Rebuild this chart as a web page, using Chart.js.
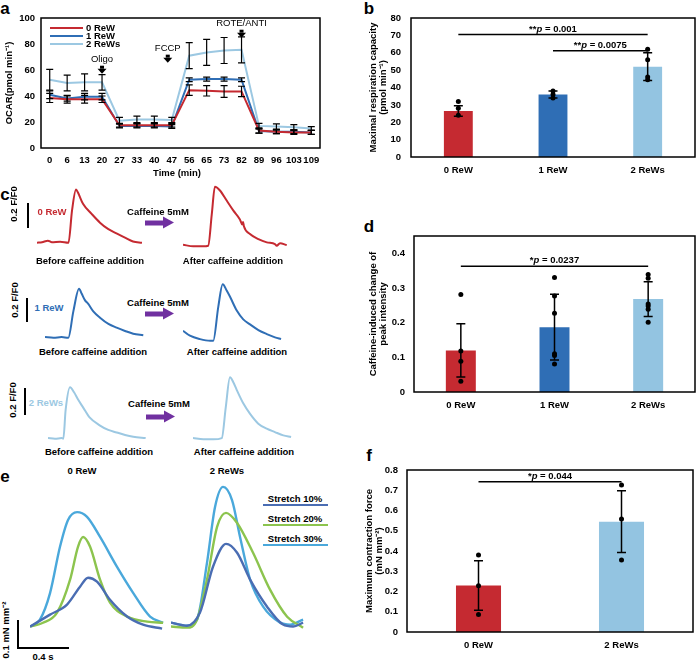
<!DOCTYPE html>
<html>
<head>
<meta charset="utf-8">
<script src="https://cdn.jsdelivr.net/npm/chart.js@4.4.1/dist/chart.umd.min.js"></script>
<style>
  body { margin: 0; background: #fff; }
  #fig { position: relative; width: 699px; height: 661px; overflow: hidden; background: #fff;
         font-family: 'Liberation Sans', Arial, sans-serif; }
  canvas { position: absolute; }
  .t { position: absolute; transform: translate(-50%, -50%); white-space: nowrap;
       font-weight: bold; font-size: 9.5px; line-height: 1; }
  .rot { transform: translate(-50%, -50%) rotate(-90deg); }
  .pl { position: absolute; transform: translate(-50%, -50%); font-weight: bold; font-size: 17px; line-height: 1; }
  .ln { position: absolute; background: #000; }
  .arrow { position: absolute; width: 29px; height: 13px; transform: translateY(-50%); }
  .arrow::before { content: ''; position: absolute; left: 0; top: 4px; width: 18px; height: 5px; background: #7030A0; }
  .arrow::after { content: ''; position: absolute; left: 18px; top: 0; border-left: 11px solid #7030A0;
                  border-top: 6.5px solid transparent; border-bottom: 6.5px solid transparent; }
</style>
</head>
<body>
<div id="fig">
  <!-- panel letters -->
  <div class="pl" style="left:5px;top:8px">a</div>
  <div class="pl" style="left:369px;top:8px">b</div>
  <div class="pl" style="left:5px;top:194px">c</div>
  <div class="pl" style="left:369px;top:226px">d</div>
  <div class="pl" style="left:5px;top:476px">e</div>
  <div class="pl" style="left:369px;top:455px">f</div>

  <canvas id="chartA" width="330" height="182" style="left:0;top:0"></canvas>
  <div class="t" style="left:177px;top:173px">Time (min)</div>
  <!-- legend a -->
  <div class="ln" style="left:50px;top:27px;width:33px;height:2px;background:#C52A31"></div>
  <div class="ln" style="left:50px;top:35px;width:33px;height:2px;background:#2F6EB5"></div>
  <div class="ln" style="left:50px;top:43px;width:33px;height:2px;background:#9CC8E2"></div>
  <div class="t" style="left:86px;top:28px;transform:translateY(-50%)">0 ReW</div>
  <div class="t" style="left:86px;top:36px;transform:translateY(-50%)">1 ReW</div>
  <div class="t" style="left:86px;top:44px;transform:translateY(-50%)">2 ReWs</div>

  <canvas id="chartB" width="349" height="185" style="left:350px;top:0"></canvas>
  <canvas id="chartD" width="349" height="220" style="left:350px;top:200px"></canvas>
  <canvas id="chartF" width="349" height="221" style="left:350px;top:440px"></canvas>

  <!-- panel c -->
  <div class="ln" style="left:27px;top:203px;width:2px;height:25px"></div>
  <div class="t rot" style="left:14px;top:204px">0.2 F/F0</div>
  <div class="t" style="left:52px;top:212px;color:#C52A31">0 ReW</div>
  <div class="t" style="left:158px;top:212px">Caffeine 5mM</div>
  <div class="arrow" style="left:145px;top:223px"></div>
  <div class="t" style="left:90px;top:261px">Before caffeine addition</div>
  <div class="t" style="left:233px;top:261px">After caffeine addition</div>
  <canvas id="c0b" width="105" height="69" style="left:37px;top:180px"></canvas>
  <canvas id="c0a" width="105" height="69" style="left:183px;top:183px"></canvas>

  <div class="ln" style="left:26px;top:298px;width:2px;height:24px"></div>
  <div class="t rot" style="left:15px;top:300px">0.2 F/F0</div>
  <div class="t" style="left:49px;top:308px;color:#2F6EB5">1 ReW</div>
  <div class="t" style="left:158px;top:303px">Caffeine 5mM</div>
  <div class="arrow" style="left:145px;top:314px"></div>
  <div class="t" style="left:93px;top:352px">Before caffeine addition</div>
  <div class="t" style="left:237px;top:352px">After caffeine addition</div>
  <canvas id="c1b" width="105" height="69" style="left:45px;top:275px"></canvas>
  <canvas id="c1a" width="105" height="69" style="left:183px;top:278px"></canvas>

  <div class="ln" style="left:24px;top:388px;width:2px;height:27px"></div>
  <div class="t rot" style="left:13px;top:400px">0.2 F/F0</div>
  <div class="t" style="left:46px;top:403px;color:#9CC8E2">2 ReWs</div>
  <div class="t" style="left:159px;top:404px">Caffeine 5mM</div>
  <div class="arrow" style="left:146px;top:417px"></div>
  <div class="t" style="left:99px;top:452px">Before caffeine addition</div>
  <div class="t" style="left:244px;top:452px">After caffeine addition</div>
  <canvas id="c2b" width="105" height="69" style="left:48px;top:376px"></canvas>
  <canvas id="c2a" width="105" height="69" style="left:193px;top:376px"></canvas>

  <!-- panel e -->
  <div class="t" style="left:82px;top:471px">0 ReW</div>
  <div class="t" style="left:227px;top:471px">2 ReWs</div>
  <div class="t" style="left:295px;top:499px">Stretch 10%</div>
  <div class="t" style="left:295px;top:519px">Stretch 20%</div>
  <div class="t" style="left:295px;top:539px">Stretch 30%</div>
  <div class="ln" style="left:263px;top:504px;width:65px;height:2px;background:#4A6DB3"></div>
  <div class="ln" style="left:263px;top:524px;width:65px;height:2px;background:#8CC44E"></div>
  <div class="ln" style="left:263px;top:544px;width:65px;height:2px;background:#4AA8DB"></div>
  <div class="ln" style="left:17px;top:620px;width:2px;height:29px"></div>
  <div class="ln" style="left:17px;top:647px;width:52px;height:2px"></div>
  <div class="t rot" style="left:6px;top:630px">0.1 mN mm⁻²</div>
  <div class="t" style="left:43px;top:657px">0.4 s</div>
  <canvas id="e0" width="134" height="148" style="left:30px;top:487px"></canvas>
  <canvas id="e2" width="134" height="148" style="left:171px;top:483px"></canvas>
</div>

<script>
// ---------- panel a: OCAR time course ----------
const timeLabels = ['0', '6', '13', '20', '27', '33', '40', '47', '56', '65', '73', '82', '89', '96', '103', '109'];
const ocar0 = [38.5, 37.5, 37.5, 37.5, 17.5, 17.5, 17.5, 17.5, 44.5, 44, 43.5, 43.5, 13.5, 12.5, 12, 12];
const ocar0Sd = [3.5, 3, 3, 2.5, 1.5, 1.5, 1.5, 1.5, 4, 4, 4.5, 4, 2, 1.5, 1.5, 1.5];
const ocar1 = [41, 38, 39.5, 39.5, 17, 17, 17, 16.5, 52.5, 53, 53, 52.5, 13, 12.5, 12.5, 12];
const ocar1Sd = [3, 2, 2.5, 2.5, 1.5, 1.5, 1.5, 1.5, 1.5, 1.5, 1.5, 1.5, 1.5, 1.5, 1.5, 1.5];
const ocar2 = [52.5, 50, 50.5, 50.5, 21, 22, 22, 21.5, 71, 73.5, 75, 75.5, 17, 16.5, 16, 15];
const ocar2Sd = [8, 6, 6.5, 6, 2.5, 2.5, 2.5, 2, 10, 10, 10, 10, 2, 2, 2, 1.5];

// ---------- panel b: maximal respiration ----------
const groups3 = ['0 ReW', '1 ReW', '2 ReWs'];
const maxResp = [26.5, 36, 52];
const maxRespSd = [3, 2, 8];
const maxRespDots = [[32, 28, 24], [38, 36, 34], [62, 56, 46, 44.5]];

// ---------- panel d: caffeine-induced change ----------
const caffChange = [0.12, 0.187, 0.268];
const caffChangeSd = [0.077, 0.095, 0.05];
const caffChangeDots = [[0.281, 0.118, 0.089, 0.031], [0.33, 0.277, 0.227, 0.11, 0.105, 0.081], [0.339, 0.328, 0.254, 0.248, 0.239, 0.201]];

// ---------- panel f: maximum contraction force ----------
const groups2 = ['0 ReW', '2 ReWs'];
const maxForce = [0.23, 0.545];
const maxForceSd = [0.122, 0.152];
const maxForceDots = [[0.38, 0.228, 0.086], [0.726, 0.558, 0.355]];

// ---------- panel c: calcium transients [t (s), ΔF/F0] ----------
const ca0Before = [[0, 0], [0.24, 0.004], [0.52, 0.016], [0.71, 0.004], [1.1, 0.008], [1.5, 0], [1.67, 0.26], [1.86, 0.424], [1.95, 0.4], [2.19, 0.31], [2.6, 0.23], [3.0, 0.16], [3.38, 0.11], [3.81, 0.072], [4.19, 0.04], [4.57, 0.01], [5.0, 0]];
const ca0After = [[0, 0.008], [0.49, -0.005], [0.97, -0.005], [1.2, 0], [1.37, 0.25], [1.52, 0.47], [1.76, 0.44], [2.08, 0.36], [2.4, 0.28], [2.71, 0.21], [2.82, 0.17], [2.86, 0.19], [2.9, 0.155], [3.19, 0.093], [3.59, 0.053], [3.99, 0.027], [4.38, 0.013], [4.46, 0], [4.62, 0.02], [4.94, 0.005]];
const ca1Before = [[0, 0.005], [0.4, 0], [0.79, 0.005], [1.11, 0], [1.35, 0.21], [1.62, 0.39], [1.75, 0.35], [1.9, 0.3], [2.06, 0.27], [2.3, 0.21], [2.62, 0.16], [3.02, 0.11], [3.41, 0.08], [3.81, 0.054], [4.2, 0.032], [4.68, 0.019]];
const ca1After = [[0, 0.08], [0.33, 0.04], [0.81, 0.013], [1.29, 0], [1.44, 0], [1.68, 0.27], [1.89, 0.45], [2.08, 0.4], [2.24, 0.35], [2.56, 0.24], [2.87, 0.17], [3.19, 0.13], [3.59, 0.085], [3.99, 0.053], [4.38, 0.027], [4.67, 0.013]];
const ca2Before = [[0, 0.005], [0.33, 0], [0.65, 0.005], [0.73, 0], [0.84, 0.23], [1.05, 0.41], [1.24, 0.37], [1.44, 0.31], [1.67, 0.25], [1.98, 0.17], [2.46, 0.107], [2.87, 0.07], [3.27, 0.05], [3.67, 0.03], [4.06, 0.016], [4.65, 0.005]];
const ca2After = [[0, 0.005], [0.49, -0.005], [0.97, -0.005], [1.37, 0.005], [1.56, 0.25], [1.76, 0.49], [1.92, 0.45], [2.08, 0.39], [2.4, 0.28], [2.71, 0.2], [3.11, 0.12], [3.51, 0.08], [3.9, 0.053], [4.3, 0.027], [4.67, 0.013]];

// ---------- panel e: force traces [t (s), mN/mm2] ----------
const f0Stretch10 = [[0, 0], [0.157, 0.043], [0.29, 0.079], [0.392, 0.143], [0.455, 0.175], [0.525, 0.161], [0.627, 0.096], [0.761, 0.036], [0.886, 0.007], [1.035, -0.007]];
const f0Stretch20 = [[0, 0], [0.102, 0.014], [0.212, 0.05], [0.314, 0.168], [0.376, 0.286], [0.416, 0.321], [0.471, 0.286], [0.549, 0.168], [0.627, 0.086], [0.761, 0.036], [0.918, 0.018], [1.043, 0.014]];
const f0Stretch30 = [[0, 0], [0.078, 0.025], [0.157, 0.12], [0.235, 0.286], [0.298, 0.382], [0.369, 0.41], [0.447, 0.393], [0.549, 0.321], [0.682, 0.214], [0.808, 0.121], [0.941, 0.036], [1.043, 0.014]];
const f2Stretch10 = [[0, 0], [0.125, -0.011], [0.227, 0.036], [0.329, 0.2], [0.431, 0.282], [0.518, 0.25], [0.62, 0.154], [0.753, 0.057], [0.878, -0.007], [0.957, -0.014], [1.035, 0]];
const f2Stretch20 = [[0, -0.014], [0.125, -0.018], [0.204, 0.011], [0.282, 0.154], [0.361, 0.343], [0.431, 0.393], [0.518, 0.357], [0.643, 0.25], [0.776, 0.118], [0.91, 0.021], [1.035, -0.018]];
const f2Stretch30 = [[0, 0], [0.125, -0.011], [0.204, 0.011], [0.282, 0.214], [0.345, 0.414], [0.408, 0.486], [0.478, 0.439], [0.541, 0.307], [0.62, 0.154], [0.722, 0.057], [0.855, 0], [0.933, -0.007], [1.035, 0.011]];

const RED = '#C52A31', BLUE = '#2F6EB5', LIGHT = '#9CC8E2', LIGHT_BAR = '#93C4E1';
const S10 = '#4A6DB3', S20 = '#8CC44E', S30 = '#4AA8DB';
const FONT = "'Liberation Sans', Arial, sans-serif";

Chart.defaults.font.family = FONT;
Chart.defaults.font.size = 9.5;
Chart.defaults.font.weight = 'bold';
Chart.defaults.color = '#000';
Chart.defaults.animation = false;
Chart.defaults.responsive = false;
Chart.defaults.devicePixelRatio = 1;
Chart.defaults.plugins.legend.display = false;
Chart.defaults.plugins.tooltip.enabled = false;

// box round the plot area
const boxPlugin = {
  id: 'box',
  afterDatasetsDraw(chart) {
    const { ctx, chartArea: a } = chart;
    ctx.save();
    ctx.strokeStyle = '#000';
    ctx.lineWidth = 1.5;
    ctx.strokeRect(a.left, a.top, a.right - a.left, a.bottom - a.top);
    ctx.restore();
  }
};

// error bars from dataset.errors
const errorBarPlugin = {
  id: 'errorBars',
  afterDatasetsDraw(chart, args, opts) {
    const { ctx } = chart;
    const y = chart.scales.y;
    const cap = opts.cap || 3.5;
    chart.data.datasets.forEach((ds, i) => {
      if (!ds.errors) return;
      chart.getDatasetMeta(i).data.forEach((el, j) => {
        const v = ds.data[j], e = ds.errors[j];
        const top = y.getPixelForValue(v + e), bot = y.getPixelForValue(v - e);
        ctx.save();
        ctx.strokeStyle = '#000';
        ctx.lineWidth = opts.width || 1.2;
        ctx.beginPath();
        ctx.moveTo(el.x, top); ctx.lineTo(el.x, bot);
        ctx.moveTo(el.x - cap, top); ctx.lineTo(el.x + cap, top);
        ctx.moveTo(el.x - cap, bot); ctx.lineTo(el.x + cap, bot);
        ctx.stroke();
        ctx.restore();
      });
    });
  }
};

// significance lines with "*p = ..." labels
const sigPlugin = {
  id: 'sig',
  afterDatasetsDraw(chart, args, opts) {
    const { ctx } = chart;
    const x = chart.scales.x, y = chart.scales.y;
    (opts.items || []).forEach(it => {
      const x1 = x.getPixelForValue(it.from), x2 = x.getPixelForValue(it.to);
      const yy = y.getPixelForValue(it.value);
      ctx.save();
      ctx.strokeStyle = '#000';
      ctx.lineWidth = 1.5;
      ctx.beginPath(); ctx.moveTo(x1, yy); ctx.lineTo(x2, yy); ctx.stroke();
      const parts = [[it.stars, 'bold'], ['p', 'italic bold'], [' = ' + it.p, 'bold']];
      let w = 0;
      parts.forEach(p => { ctx.font = p[1] + ' 9.5px ' + FONT; w += ctx.measureText(p[0]).width; });
      let cx = (x1 + x2) / 2 - w / 2;
      ctx.fillStyle = '#000';
      ctx.textBaseline = 'alphabetic';
      parts.forEach(p => {
        ctx.font = p[1] + ' 9.5px ' + FONT;
        ctx.fillText(p[0], cx, yy - 3);
        cx += ctx.measureText(p[0]).width;
      });
      ctx.restore();
    });
  }
};

// treatment arrows in panel a
const injectPlugin = {
  id: 'inject',
  afterDatasetsDraw(chart, args, opts) {
    const { ctx } = chart;
    const x = chart.scales.x, y = chart.scales.y;
    (opts.items || []).forEach(it => {
      const px = x.getPixelForValue(it.at), py = y.getPixelForValue(it.value);
      ctx.save();
      ctx.fillStyle = '#000';
      ctx.fillRect(px - 2, py, 4, 3);
      ctx.beginPath();
      ctx.moveTo(px - 4.5, py + 3); ctx.lineTo(px + 4.5, py + 3); ctx.lineTo(px, py + 8);
      ctx.closePath(); ctx.fill();
      ctx.font = 'normal 9.5px ' + FONT;
      ctx.textAlign = 'center';
      ctx.textBaseline = 'middle';
      ctx.fillText(it.label, px, py - 6);
      ctx.restore();
    });
  }
};

function fixWidth(w) { return s => { s.width = w; }; }
function fixHeight(h) { return s => { s.height = h; }; }
function tick1(v) { return v > 0.81 ? '' : (v === 0 ? '0' : v.toFixed(1)); }

// ---- a ----
function ocarSet(data, sd, color) {
  return { data, errors: sd, borderColor: color, backgroundColor: color, borderWidth: 2, pointRadius: 0, tension: 0 };
}
new Chart(document.getElementById('chartA'), {
  type: 'line',
  data: {
    labels: timeLabels,
    datasets: [ocarSet(ocar0, ocar0Sd, RED), ocarSet(ocar1, ocar1Sd, BLUE), ocarSet(ocar2, ocar2Sd, LIGHT)]
  },
  options: {
    layout: { padding: { top: 18, right: 10, bottom: 0, left: 0 } },
    scales: {
      x: { offset: true, afterFit: fixHeight(34), grid: { display: false, drawTicks: false }, border: { display: false },
           ticks: { padding: 7, maxRotation: 0, autoSkip: false } },
      y: { min: 0, max: 100, afterFit: fixWidth(41), grid: { display: false, drawTicks: false }, border: { display: false },
           ticks: { stepSize: 20, padding: 6 },
           title: { display: true, text: 'OCAR(pmol min⁻¹)', padding: { top: 4, bottom: 0 } } }
    },
    plugins: {
      errorBars: { cap: 3.5, width: 1.2 },
      inject: { items: [{ at: 3, value: 63.3, label: 'Oligo' }, { at: 6.77, value: 71.8, label: 'FCCP' }, { at: 11, value: 91, label: 'ROTE/ANTI' }] }
    }
  },
  plugins: [errorBarPlugin, boxPlugin, injectPlugin]
});

// ---- bar panels ----
function dotSets(groups, dots) {
  return dots.map((vals, i) => ({
    type: 'scatter',
    order: 0,
    data: vals.map(v => ({ x: groups[i], y: v })),
    pointRadius: 2.5, pointBackgroundColor: '#000', pointBorderWidth: 0
  }));
}
function barChart(id, groups, values, sd, dots, colors, cfg) {
  return new Chart(document.getElementById(id), {
    type: 'bar',
    data: {
      labels: groups,
      datasets: [{ data: values, errors: sd, order: 1, backgroundColor: colors, barPercentage: cfg.barPct, categoryPercentage: 1 },
                 ...dotSets(groups, dots)]
    },
    options: {
      layout: { padding: cfg.padding },
      scales: {
        x: { type: 'category', offset: true, afterFit: fixHeight(cfg.xh), grid: { display: false, drawTicks: false }, border: { display: false },
             ticks: { padding: 8 } },
        y: { min: 0, max: cfg.max, afterFit: fixWidth(cfg.yw), grid: { display: false, drawTicks: false }, border: { display: false },
             ticks: { stepSize: cfg.step, padding: cfg.tickPad, callback: cfg.fmt },
             title: { display: true, text: cfg.title, font: { lineHeight: 1.1 }, padding: { top: cfg.titlePad, bottom: 0 } } }
      },
      plugins: { errorBars: { cap: 4.5, width: 1.5 }, sig: { items: cfg.sig } }
    },
    plugins: [errorBarPlugin, boxPlugin, sigPlugin]
  });
}

barChart('chartB', groups3, maxResp, maxRespSd, maxRespDots, [RED, BLUE, LIGHT_BAR], {
  barPct: 0.305, padding: { top: 18, right: 2, bottom: 0, left: 0 }, xh: 28, yw: 61, max: 80, step: 10, tickPad: 10,
  fmt: v => v, title: ['Maximal respiration capacity', '(pmol min⁻¹)'], titlePad: 18,
  sig: [{ from: 0, to: 2, value: 70.5, stars: '**', p: '0.001' }, { from: 1, to: 2, value: 61.2, stars: '**', p: '0.0075' }]
});

barChart('chartD', groups3, caffChange, caffChangeSd, caffChangeDots, [RED, BLUE, LIGHT_BAR], {
  barPct: 0.32, padding: { top: 36, right: 2, bottom: 0, left: 0 }, xh: 28, yw: 64, max: 0.45, step: 0.1, tickPad: 9,
  fmt: v => (v > 0.41 ? '' : tick1(v)), title: ['Caffeine-induced change of', 'peak intensity'], titlePad: 18,
  sig: [{ from: 0, to: 2, value: 0.363, stars: '*', p: '0.0237' }]
});

barChart('chartF', groups2, maxForce, maxForceSd, maxForceDots, [RED, LIGHT_BAR], {
  barPct: 0.315, padding: { top: 30, right: 6, bottom: 0, left: 0 }, xh: 29, yw: 57, max: 0.8, step: 0.1, tickPad: 9,
  fmt: tick1, title: ['Maximum contraction force', '(mN mm⁻²)'], titlePad: 14,
  sig: [{ from: 0, to: 1, value: 0.742, stars: '*', p: '0.044' }]
});

// ---- c and e: traces ----
function traceChart(id, sets, xmax, ymin, ymax) {
  return new Chart(document.getElementById(id), {
    type: 'line',
    data: {
      datasets: sets.map(s => ({
        data: s.pts.map(p => ({ x: p[0], y: p[1] })),
        borderColor: s.color, borderWidth: s.width, pointRadius: 0,
        cubicInterpolationMode: 'monotone', clip: false
      }))
    },
    options: {
      layout: { padding: 0 },
      scales: {
        x: { type: 'linear', min: 0, max: xmax, display: false },
        y: { min: ymin, max: ymax, display: false }
      }
    }
  });
}
traceChart('c0b', [{ pts: ca0Before, color: RED, width: 2 }], 5, -0.05, 0.5);
traceChart('c0a', [{ pts: ca0After, color: RED, width: 2 }], 5, -0.05, 0.5);
traceChart('c1b', [{ pts: ca1Before, color: BLUE, width: 2 }], 5, -0.05, 0.5);
traceChart('c1a', [{ pts: ca1After, color: BLUE, width: 2 }], 5, -0.05, 0.5);
traceChart('c2b', [{ pts: ca2Before, color: LIGHT, width: 2 }], 5, -0.05, 0.5);
traceChart('c2a', [{ pts: ca2After, color: LIGHT, width: 2 }], 5, -0.05, 0.5);

traceChart('e0', [{ pts: f0Stretch10, color: S10, width: 2.4 }, { pts: f0Stretch20, color: S20, width: 2.4 }, { pts: f0Stretch30, color: S30, width: 2.4 }], 1.05, -0.03, 0.5);
traceChart('e2', [{ pts: f2Stretch10, color: S10, width: 2.4 }, { pts: f2Stretch20, color: S20, width: 2.4 }, { pts: f2Stretch30, color: S30, width: 2.4 }], 1.05, -0.03, 0.5);
</script>
</body>
</html>
